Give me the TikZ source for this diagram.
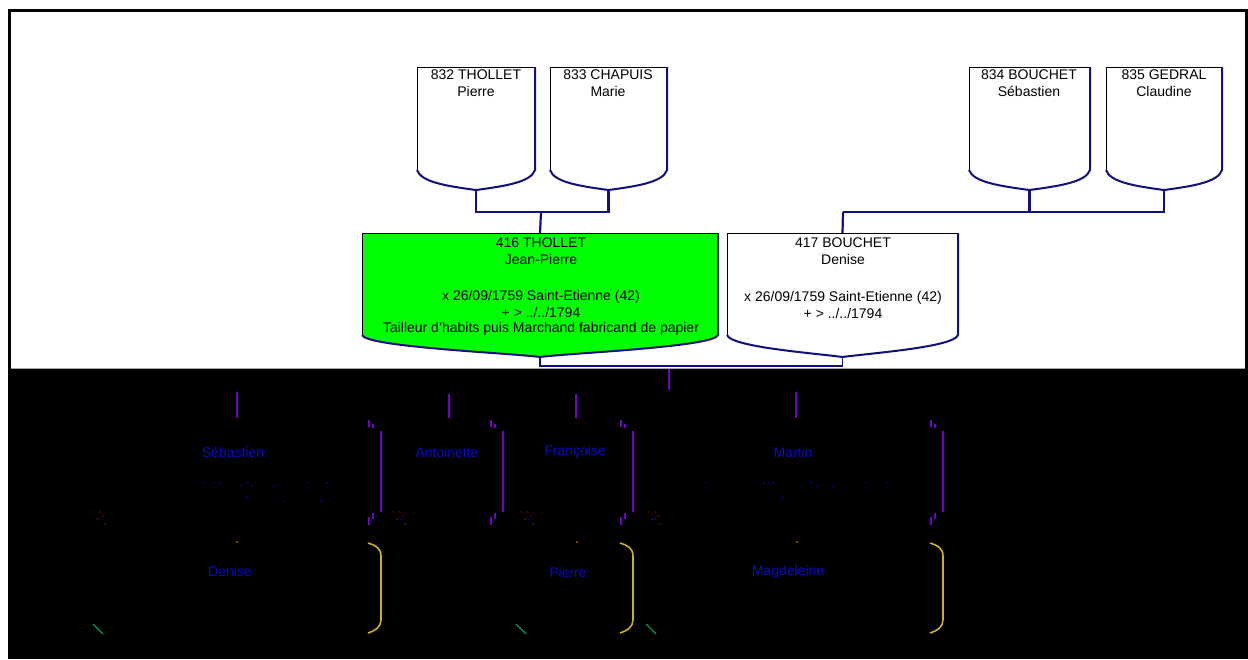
\documentclass[tikz,border=0pt]{standalone}
\usepackage{fontspec}
\setmainfont{Liberation Sans}
\definecolor{navyline}{RGB}{16,16,128}
\definecolor{famgreen}{RGB}{0,255,0}
\definecolor{ghostblue}{RGB}{10,10,200}
\definecolor{ghostpurple}{RGB}{115,0,200}
\definecolor{ghostyellow}{RGB}{205,175,45}
\definecolor{ghostgreen}{RGB}{0,150,110}
\definecolor{ghostred}{RGB}{150,0,20}
\tikzset{
  x=1pt, y=-1pt,
  link/.style={draw=navyline, line width=2.2pt},
  boxtext/.style={font=\fontsize{14}{17}\selectfont, align=center, anchor=north, inner sep=0pt},
  ghosttext/.style={font=\fontsize{14}{16}\selectfont, text=ghostblue, inner sep=0pt},
  ghostline/.style={draw=ghostpurple, line width=2pt},
  ghostbracket/.style={draw=ghostyellow, line width=1.6pt},
  ghostmark/.style={draw=ghostgreen, line width=1.4pt},
  holder/.style={inner sep=0pt, draw=none}
}
% #1 name, #2 x1, #3 x2, #4 ytop, #5 yside, #6 ybot, #7 fill
\newcommand{\shieldbox}[7]{%
  \pgfmathsetmacro{\cxx}{(#2+#3)/2}%
  \pgfmathsetmacro{\wdd}{#3-#2}%
  \pgfmathsetmacro{\htt}{#6-#4}%
  \node[holder, minimum width=\wdd, minimum height=\htt, anchor=north west] (#1) at (#2,#4) {};
  \coordinate (#1bot) at (\cxx,#6);
  \coordinate (#1top) at (\cxx,#4);
  \fill[#7] (#2,#4) -- (#3,#4) -- (#3,#5)
     .. controls (#3-4,#5+12) and (\cxx+30,#6-4) .. (\cxx,#6)
     .. controls (\cxx-30,#6-4) and (#2+4,#5+12) .. (#2,#5) -- cycle;
  \draw[black, line width=1pt] (#3,#5) -- (#3,#4) -- (#2,#4) -- (#2,#5);
  \draw[navyline, line width=2pt] (#3,#4) -- (#3,#5)
     .. controls (#3-4,#5+12) and (\cxx+30,#6-4) .. (\cxx,#6)
     .. controls (\cxx-30,#6-4) and (#2+4,#5+12) .. (#2,#5);
}
\begin{document}
\begin{tikzpicture}
\useasboundingbox (0,0) rectangle (1248,659);
\fill[white] (0,0) rectangle (1248,659);
% frame
\fill[black] (8,9) rectangle (1248,12);
\fill[black] (8,9) rectangle (11,368);
\fill[black] (1245,9) rectangle (1248,368);
\fill[black] (8,368) rectangle (1248,659);
\draw[gray!70, line width=1pt] (11,368) -- (1245,368);

% boxes
\shieldbox{p832}{417}{535}{67}{170}{190}{white}
\shieldbox{p833}{550}{667}{67}{170}{190}{white}
\shieldbox{p834}{969}{1090}{67}{170}{190}{white}
\shieldbox{p835}{1106}{1222}{67}{170}{190}{white}
\shieldbox{p416}{362}{718}{233}{335}{357}{famgreen}
\shieldbox{p417}{727}{958}{233}{335}{357}{white}

\node[boxtext] at (476,70) {832 THOLLET\\Pierre};
\node[boxtext] at (608,70) {833 CHAPUIS\\Marie};
\node[boxtext] at (1029,70) {834 BOUCHET\\Sébastien};
\node[boxtext] at (1164,70) {835 GEDRAL\\Claudine};
\node[boxtext] at (541,238) {416 THOLLET\\Jean-Pierre};
\node[boxtext] at (541,290) {x 26/09/1759 Saint-Etienne (42)\\+ > ../../1794\\[-2pt]Tailleur d'habits puis Marchand fabricand de papier};
\node[boxtext] at (843,238) {417 BOUCHET\\Denise};
\node[boxtext] at (843,291) {x 26/09/1759 Saint-Etienne (42)\\+ > ../../1794};

% connectors
\coordinate (c1) at (541,212);
\coordinate (c2) at (843,212);
\coordinate (c3) at (692,366);
\draw[link] (p832bot) |- (c1) -| (p833bot);
\draw[link] (c1) -- (p416top);
\draw[link] (p834bot) |- (c2) -| (p835bot);
\draw[link] (c2) -- (p417top);
\draw[link, line width=1.6pt] (p416bot) |- (c3) -| (p417bot);

% ghost children area
\coordinate (g0) at (669,369);
\coordinate (g0e) at (669,390);
\draw[ghostline] (g0) -- (g0e);
\foreach \gx/\gy in {237/392,449/394,576/394,796/392}{
  \draw[ghostline] (\gx,\gy) -- (\gx,418);
}
\foreach \gx in {381,503,633,943}{
  \draw[ghostline] (\gx,431) -- (\gx,512);
  \draw[ghostline, line width=1.3pt] (\gx-12,420) -- (\gx-12,427) (\gx-8,424) -- (\gx-8,428);
  \draw[ghostline, line width=1.3pt] (\gx-12,517) -- (\gx-12,525) (\gx-8,513) -- (\gx-8,519);
}
\foreach \gx in {100,400,528,655}{
  \fill[ghostred] (\gx-7,512) circle (0.8) (\gx,512) circle (0.8) (\gx+3,516) circle (0.8)
    (\gx-3,519) circle (0.8) (\gx+5,524) circle (0.8);
  \fill[ghostblue] (\gx,519) circle (0.9);
}
\node[ghosttext] (k1) at (233,452) {Sébastien};
\node[ghosttext] (k2) at (447,452) {Antoinette};
\node[ghosttext] (k3) at (575,452) {Françoise};
\node[ghosttext] (k4) at (793,452) {Martin};
\node[ghosttext] (k5) at (230,571) {Denise};
\node[ghosttext] (k6) at (568,572) {Pierre};
\node[ghosttext] (k7) at (788,572) {Magdeleine};
\foreach \gx/\gy in {205/483,214/483,220/483,241/486,248/483,252/486,274/486,307/483,327/483,247/498,283/501,321/501,
  706/483,764/483,769/483,773/483,800/486,811/483,817/486,833/486,866/483,886/483,782/498}{
  \fill[ghostblue] (\gx,\gy) circle (0.9);
}
\foreach \gx in {381,633,943}{
  \draw[ghostbracket] (\gx-13,543) .. controls (\gx-6,545) and (\gx,548) .. (\gx,556)
    -- (\gx,620) .. controls (\gx,627) and (\gx-6,631) .. (\gx-13,633);
}
\foreach \gx in {95,518,648}{
  \draw[ghostmark] (\gx-2,624) -- (\gx+8,634);
}
\foreach \gx in {237,577,797}{
  \fill[orange!70!black] (\gx,542) circle (1.2);
}
\end{tikzpicture}
\end{document}
